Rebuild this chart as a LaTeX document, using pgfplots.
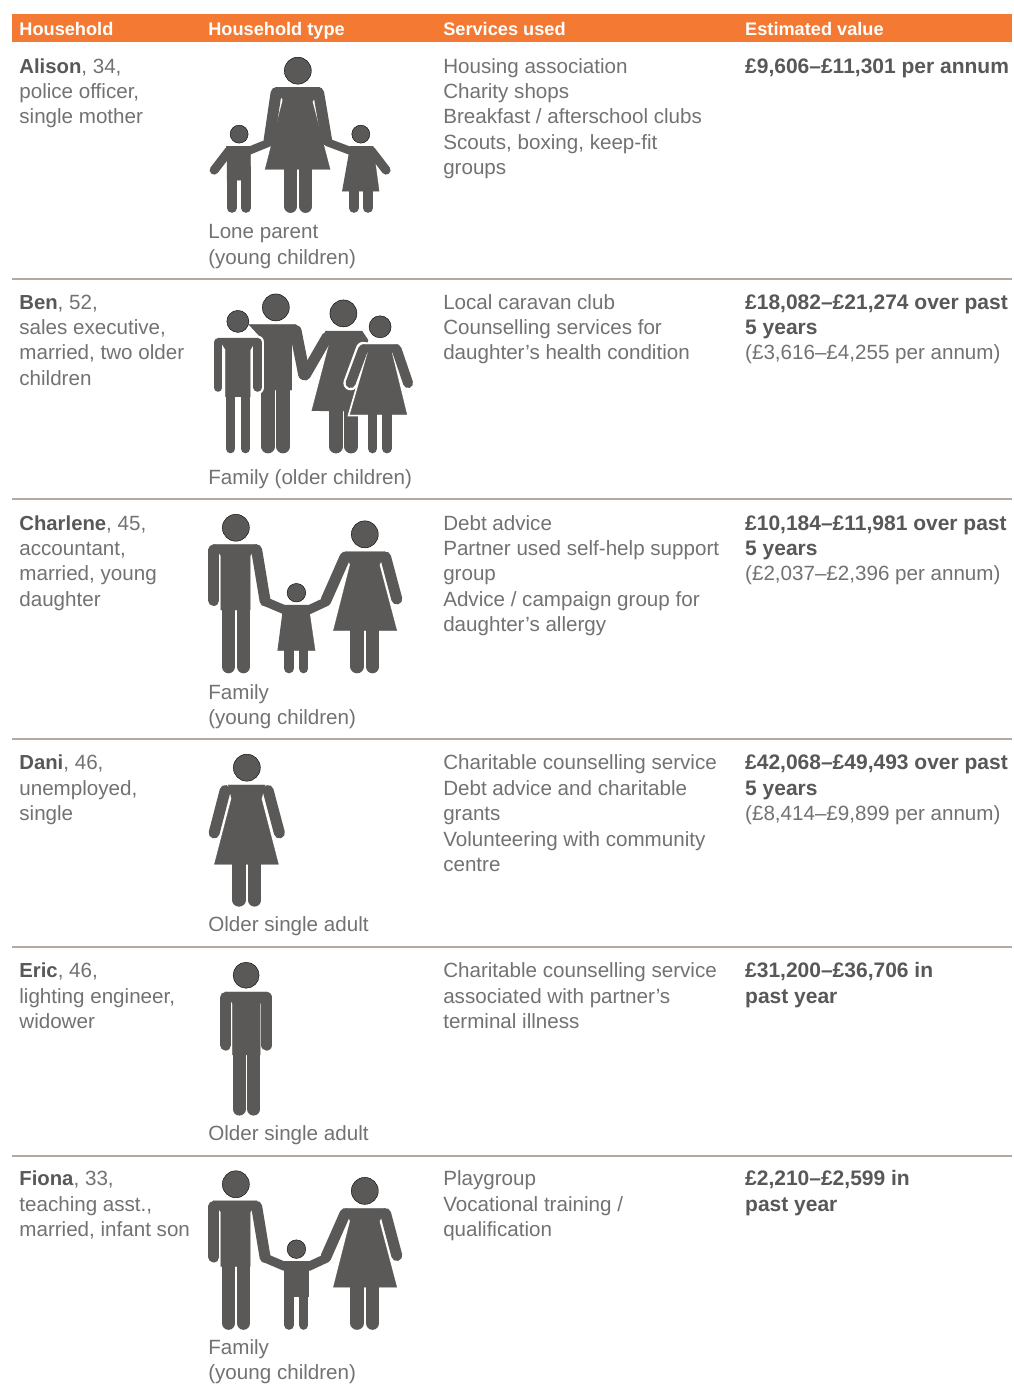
\documentclass[border=0pt]{standalone}
\usepackage{fontspec}
\setmainfont{Liberation Sans}
\usepackage{pgfplots}
\pgfplotsset{compat=1.18}
\definecolor{icon}{HTML}{5A5958}
\definecolor{txt}{HTML}{727272}
\definecolor{strong}{HTML}{58585A}
\definecolor{head}{HTML}{F47932}
\definecolor{rule}{HTML}{B3A99F}
\newcommand{\tx}[3]{\node[anchor=base west,inner sep=0pt,text=txt,font=\fontsize{20.6}{24}\selectfont] at (axis cs:#1,#2) {#3};}
\newcommand{\hd}[2]{\node[anchor=base west,inner sep=0pt,text=white,font=\fontsize{18.2}{22}\selectfont\bfseries] at (axis cs:#1,35) {#2};}
\newcommand{\B}[1]{\textcolor{strong}{\fontsize{20.3}{24}\selectfont\textbf{#1}}}
\newcommand{\V}[1]{\textcolor{strong}{\fontsize{21}{24}\selectfont\textbf{#1}}}
\pgfplotsset{
  body/.style={fill=icon,draw=icon,line width=0.3pt,no markers},
  limb/.style={draw=icon,line width=#1,line cap=round,line join=round,no markers},
  wlimb/.style={draw=white,line width=#1,line cap=round,line join=round,no markers},
  wbody/.style={fill=white,draw=white,line width=#1,no markers},
  heads/.style={only marks,mark=*,mark size=#1,mark options={fill=icon,draw=none}},
  rowline/.style={draw=rule,line width=2.6pt,no markers},
}
\begin{document}
\begin{tikzpicture}
\begin{axis}[
  scale only axis, width=1012pt, height=1385pt,
  xmin=0, xmax=1012, ymin=0, ymax=1385, y dir=reverse,
  hide axis, clip=false,
]
\addplot[draw=white,fill=white,no markers] coordinates {(0,0)(1012,0)(1012,1385)(0,1385)};
\addplot[draw=none,fill=head,no markers] coordinates {(12,14)(1012,14)(1012,42)(12,42)};
\addplot[rowline] coordinates {(12,279)(1012,279)};
\addplot[rowline] coordinates {(12,499)(1012,499)};
\addplot[rowline] coordinates {(12,739)(1012,739)};
\addplot[rowline] coordinates {(12,947)(1012,947)};
\addplot[rowline] coordinates {(12,1156)(1012,1156)};

% Alison: lone parent
\addplot[heads=13.5] coordinates {(297.7,70.5)};
\addplot[heads=9] coordinates {(239,134)(360.7,134)};
\addplot[body] coordinates {(275,87)(320,87)(312.3,101.7)(330,169.3)(265,169.3)(282.7,100)};
\addplot[limb=11pt] coordinates {(276,92.5)(269,140)};
\addplot[limb=11pt] coordinates {(318.5,92.5)(326.5,140)};
\addplot[limb=13pt] coordinates {(290.5,168)(290.5,206.3)};
\addplot[limb=13pt] coordinates {(305.5,168)(305.5,206.3)};
\addplot[body] coordinates {(226,146)(250.5,146)(250.7,180)(227,180)(227,155)};
\addplot[limb=9pt] coordinates {(229,150.5)(214,170)};
\addplot[limb=8pt] coordinates {(248,151)(270,142)};
\addplot[limb=9.6pt] coordinates {(231.7,178)(231.7,207.9)};
\addplot[limb=9.6pt] coordinates {(245.8,178)(245.8,207.9)};
\addplot[body] coordinates {(350,146)(373,146)(379,191)(342,191)};
\addplot[limb=9pt] coordinates {(371,150.5)(386,170)};
\addplot[limb=8pt] coordinates {(351,151)(327,142)};
\addplot[limb=9.6pt] coordinates {(353.7,189)(353.7,207.9)};
\addplot[limb=9.6pt] coordinates {(367.8,189)(367.8,207.9)};

% Ben: family with older children
\addplot[heads=13.5] coordinates {(275.7,307.3)(343.3,313.3)};
\addplot[heads=11] coordinates {(237.7,321.3)(380,326.7)};
\addplot[body] coordinates {(248.3,324.3)(296,324.3)(291.7,338)(291.7,390)(261,390)(261,338)};
\addplot[limb=12pt] coordinates {(295.5,331)(304,374)};
\addplot[limb=14pt] coordinates {(268,388)(268,446.3)};
\addplot[limb=14pt] coordinates {(283,388)(283,446.3)};
\addplot[body] coordinates {(325,331)(362,331)(368,340)(350,411)(311.7,410.7)(329.3,343.3)};
\addplot[limb=11pt] coordinates {(327,337)(305,375)};
\addplot[limb=13.7pt] coordinates {(335.8,409)(335.8,446.5)};
\addplot[limb=13.7pt] coordinates {(351.2,409)(351.2,446.5)};
\addplot[wlimb=13pt] coordinates {(218,342)(218,387.5)};
\addplot[wlimb=13pt] coordinates {(257.5,342)(257.5,387.5)};
\addplot[wbody=3pt] coordinates {(218,338)(257,338)(250,350)(250,396.7)(225.5,396.7)(225.5,350)};
\addplot[body] coordinates {(218,338)(257,338)(250,350)(250,396.7)(225.5,396.7)(225.5,350)};
\addplot[limb=8pt] coordinates {(218,342)(218,387.7)};
\addplot[limb=8.4pt] coordinates {(257.5,342)(257.5,387.5)};
\addplot[limb=9.3pt] coordinates {(230.3,395)(230.3,448.6)};
\addplot[limb=9.3pt] coordinates {(245.3,395)(245.3,448.6)};
\addplot[wlimb=14.5pt] coordinates {(363,349)(350.5,383)};
\addplot[wbody=4pt] coordinates {(362,344.3)(398,344.3)(391.7,353)(406.7,414.3)(350,414.3)(367.7,353)};
\addplot[body] coordinates {(362,344.3)(398,344.3)(391.7,353)(406.7,414.3)(350,414.3)(367.7,353)};
\addplot[limb=10pt] coordinates {(363,349.3)(350.5,383)};
\addplot[limb=10pt] coordinates {(396.5,349.3)(408,383)};
\addplot[limb=9.6pt] coordinates {(372.5,413)(372.5,448.5)};
\addplot[limb=9.6pt] coordinates {(386.9,413)(386.9,448.5)};

% Charlene: family with young daughter
\addplot[heads=13.5] coordinates {(235.7,527.7)(364.7,534.3)};
\addplot[heads=9.3] coordinates {(296.3,592.7)};
\addplot[body] coordinates {(213,544.3)(257,544.3)(250,556)(250,610)(220.7,610)(220.7,556)};
\addplot[limb=10.7pt] coordinates {(213.7,549.7)(213.7,600.6)};
\addplot[limb=11pt] coordinates {(256.5,549.8)(265,601)};
\addplot[limb=9pt] coordinates {(265,601.5)(285,610)};
\addplot[limb=13.4pt] coordinates {(228.4,608)(228.4,666.6)};
\addplot[limb=13.4pt] coordinates {(243.4,608)(243.4,666.6)};
\addplot[body] coordinates {(283.3,605)(308.3,605)(315,650.7)(277.3,650.7)};
\addplot[limb=9.4pt] coordinates {(289,649)(289,668.6)};
\addplot[limb=9.4pt] coordinates {(303.6,649)(303.6,668.6)};
\addplot[limb=9pt] coordinates {(308.3,610)(326.5,601.5)};
\addplot[limb=11pt] coordinates {(345,557)(326,600)};
\addplot[body] coordinates {(345,551.7)(385,551.7)(379.3,565)(396.7,630.7)(333.3,630.7)(350,565)};
\addplot[limb=11pt] coordinates {(385.5,557)(396.7,599)};
\addplot[limb=13.6pt] coordinates {(357,629)(357,666.5)};
\addplot[limb=13.6pt] coordinates {(372.4,629)(372.4,666.5)};

% Dani: older single adult, woman
\addplot[heads=13.5] coordinates {(246.7,767.7)};
\addplot[body] coordinates {(228,785)(265,785)(261.3,799)(278.3,864.3)(214.3,864.3)(231.3,799)};
\addplot[limb=11pt] coordinates {(225,790.5)(214,833)};
\addplot[limb=11pt] coordinates {(268,790.5)(279.3,833)};
\addplot[limb=13.2pt] coordinates {(238.9,863)(238.9,900.1)};
\addplot[limb=13.2pt] coordinates {(254.4,863)(254.4,900.1)};

% Eric: older single adult, man
\addplot[heads=13] coordinates {(246,975.3)};
\addplot[body] coordinates {(225,992)(267,992)(260,1004)(260,1055)(232.3,1055)(232.3,1004)};
\addplot[limb=11pt] coordinates {(225.5,997.5)(225.5,1045.2)};
\addplot[limb=11.4pt] coordinates {(266.6,997.7)(266.6,1045)};
\addplot[limb=13.2pt] coordinates {(239,1053)(239,1109.1)};
\addplot[limb=13.2pt] coordinates {(253.6,1053)(253.6,1109.1)};

% Fiona: family with infant son
\addplot[heads=13.5] coordinates {(235.7,1184.4)(364.7,1191)};
\addplot[heads=9.3] coordinates {(296.3,1249.3)};
\addplot[body] coordinates {(213,1201)(257,1201)(250,1212.7)(250,1266.7)(220.7,1266.7)(220.7,1212.7)};
\addplot[limb=10.7pt] coordinates {(213.7,1206.4)(213.7,1257.3)};
\addplot[limb=11pt] coordinates {(256.5,1206.5)(265,1257.7)};
\addplot[limb=9pt] coordinates {(265,1258.2)(285,1266.7)};
\addplot[limb=13.4pt] coordinates {(228.4,1264.7)(228.4,1323.3)};
\addplot[limb=13.4pt] coordinates {(243.4,1264.7)(243.4,1323.3)};
\addplot[body] coordinates {(284.3,1261.7)(308.3,1261.7)(308.3,1296)(284.3,1296)};
\addplot[limb=9.4pt] coordinates {(289,1294)(289,1325.3)};
\addplot[limb=9.4pt] coordinates {(303.6,1294)(303.6,1325.3)};
\addplot[limb=9pt] coordinates {(308.3,1266.7)(326.5,1258.2)};
\addplot[limb=11pt] coordinates {(345,1213.7)(326,1256.7)};
\addplot[body] coordinates {(345,1208.4)(385,1208.4)(379.3,1221.7)(396.7,1287.4)(333.3,1287.4)(350,1221.7)};
\addplot[limb=11pt] coordinates {(385.5,1213.7)(396.7,1255.7)};
\addplot[limb=13.6pt] coordinates {(357,1285.7)(357,1323.2)};
\addplot[limb=13.6pt] coordinates {(372.4,1285.7)(372.4,1323.2)};

\hd{19}{Household}
\hd{208}{Household type}
\hd{443}{Services used}
\hd{745}{Estimated value}

\tx{19}{73}{\B{Alison}, 34,}
\tx{19}{98.4}{police officer,}
\tx{19}{123.8}{single mother}
\tx{208}{238}{Lone parent}
\tx{208}{264}{(young children)}
\tx{443}{73}{Housing association}
\tx{443}{98.4}{Charity shops}
\tx{443}{123.8}{Breakfast / afterschool clubs}
\tx{443}{149.2}{Scouts, boxing, keep-fit}
\tx{443}{174.6}{groups}
\tx{745}{73}{\V{£9,606–£11,301 per annum}}

\tx{19}{309}{\B{Ben}, 52,}
\tx{19}{334.4}{sales executive,}
\tx{19}{359.8}{married, two older}
\tx{19}{385.2}{children}
\tx{208}{484}{Family (older children)}
\tx{443}{309}{Local caravan club}
\tx{443}{334.4}{Counselling services for}
\tx{443}{359.8}{daughter’s health condition}
\tx{745}{309}{\V{£18,082–£21,274 over past}}
\tx{745}{334.4}{\V{5 years}}
\tx{745}{359.8}{(£3,616–£4,255 per annum)}

\tx{19}{530}{\B{Charlene}, 45,}
\tx{19}{555.4}{accountant,}
\tx{19}{580.8}{married, young}
\tx{19}{606.2}{daughter}
\tx{208}{699}{Family}
\tx{208}{724.4}{(young children)}
\tx{443}{530}{Debt advice}
\tx{443}{555.4}{Partner used self-help support}
\tx{443}{580.8}{group}
\tx{443}{606.2}{Advice / campaign group for}
\tx{443}{631.6}{daughter’s allergy}
\tx{745}{530}{\V{£10,184–£11,981 over past}}
\tx{745}{555.4}{\V{5 years}}
\tx{745}{580.8}{(£2,037–£2,396 per annum)}

\tx{19}{770}{\B{Dani}, 46,}
\tx{19}{795.4}{unemployed,}
\tx{19}{820.8}{single}
\tx{208}{932}{Older single adult}
\tx{443}{770}{Charitable counselling service}
\tx{443}{795.4}{Debt advice and charitable}
\tx{443}{820.8}{grants}
\tx{443}{846.2}{Volunteering with community}
\tx{443}{871.6}{centre}
\tx{745}{770}{\V{£42,068–£49,493 over past}}
\tx{745}{795.4}{\V{5 years}}
\tx{745}{820.8}{(£8,414–£9,899 per annum)}

\tx{19}{978}{\B{Eric}, 46,}
\tx{19}{1003.4}{lighting engineer,}
\tx{19}{1028.8}{widower}
\tx{208}{1141}{Older single adult}
\tx{443}{978}{Charitable counselling service}
\tx{443}{1003.4}{associated with partner’s}
\tx{443}{1028.8}{terminal illness}
\tx{745}{978}{\V{£31,200–£36,706 in}}
\tx{745}{1003.4}{\V{past year}}

\tx{19}{1186}{\B{Fiona}, 33,}
\tx{19}{1211.4}{teaching asst.,}
\tx{19}{1236.8}{married, infant son}
\tx{208}{1355}{Family}
\tx{208}{1380}{(young children)}
\tx{443}{1186}{Playgroup}
\tx{443}{1211.4}{Vocational training /}
\tx{443}{1236.8}{qualification}
\tx{745}{1186}{\V{£2,210–£2,599 in}}
\tx{745}{1211.4}{\V{past year}}
\end{axis}
\end{tikzpicture}
\end{document}
